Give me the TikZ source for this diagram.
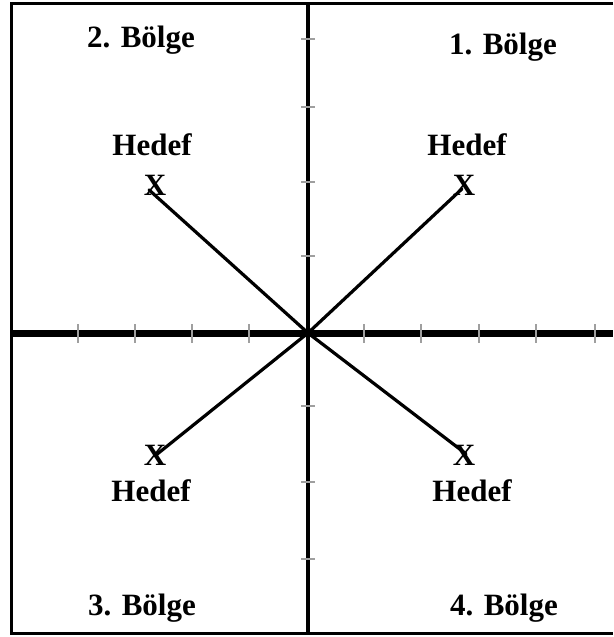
\documentclass[tikz,border=0pt]{standalone}
\usepackage{fontspec}
\setmainfont{Liberation Serif}
\usepackage{tikz}
\usetikzlibrary{positioning}

\tikzset{
  lbl/.style={font=\fontsize{31}{31}\selectfont\bfseries, inner sep=0pt, anchor=base},
  tick/.style={gray!75, line width=2.4pt},
  ray/.style={line width=3.2pt, line cap=round}
}

\begin{document}
\begin{tikzpicture}[x=1pt, y=-1pt]
    \useasboundingbox (0,0) rectangle (613,637);
    % çerçeve
    \draw[line width=3pt] (613,3) -- (11,3) -- (11,633) -- (613,633);

    % eksenler
    \coordinate (O) at (308,333);
    \draw[line width=7pt] (11,333) -- (613,333);
    \draw[line width=3.6pt] (308,3) -- (308,633);

    % eksen çentikleri
    \foreach \x in {78,135,192,249,364,421,479,536,595}
        \draw[tick] (\x,324) -- (\x,343);
    \foreach \y in {39,107,182,256,406,482,559}
        \draw[tick] (301,\y) -- (315,\y);

    % bölgeler
    \node[lbl] (b2) at (141,47) {2. Bölge};
    \node[lbl] (b1) at (503,54) {1. Bölge};
    \node[lbl] (b3) at (142,615) {3. Bölge};
    \node[lbl] (b4) at (504,615) {4. Bölge};

    % hedefler
    \node[lbl] (hul) at (152,155) {Hedef};
    \node[lbl] (xul) at (155,195) {X};
    \node[lbl] (hur) at (467,155) {Hedef};
    \node[lbl] (xur) at (464,195) {X};
    \node[lbl] (xll) at (155,465) {X};
    \node[lbl] (hll) at (151,501) {Hedef};
    \node[lbl] (xlr) at (464,465) {X};
    \node[lbl] (hlr) at (472,501) {Hedef};

    % doğrular
    \draw[ray] (O) -- ([shift={(-6pt,-5pt)}]xul.center);
    \draw[ray] (O) -- ([shift={(-2pt,-4pt)}]xur.center);
    \draw[ray] (O) -- ([shift={(0pt,-1pt)}]xll.center);
    \draw[ray] (O) -- ([shift={(2pt,1pt)}]xlr.center);
\end{tikzpicture}
\end{document}
